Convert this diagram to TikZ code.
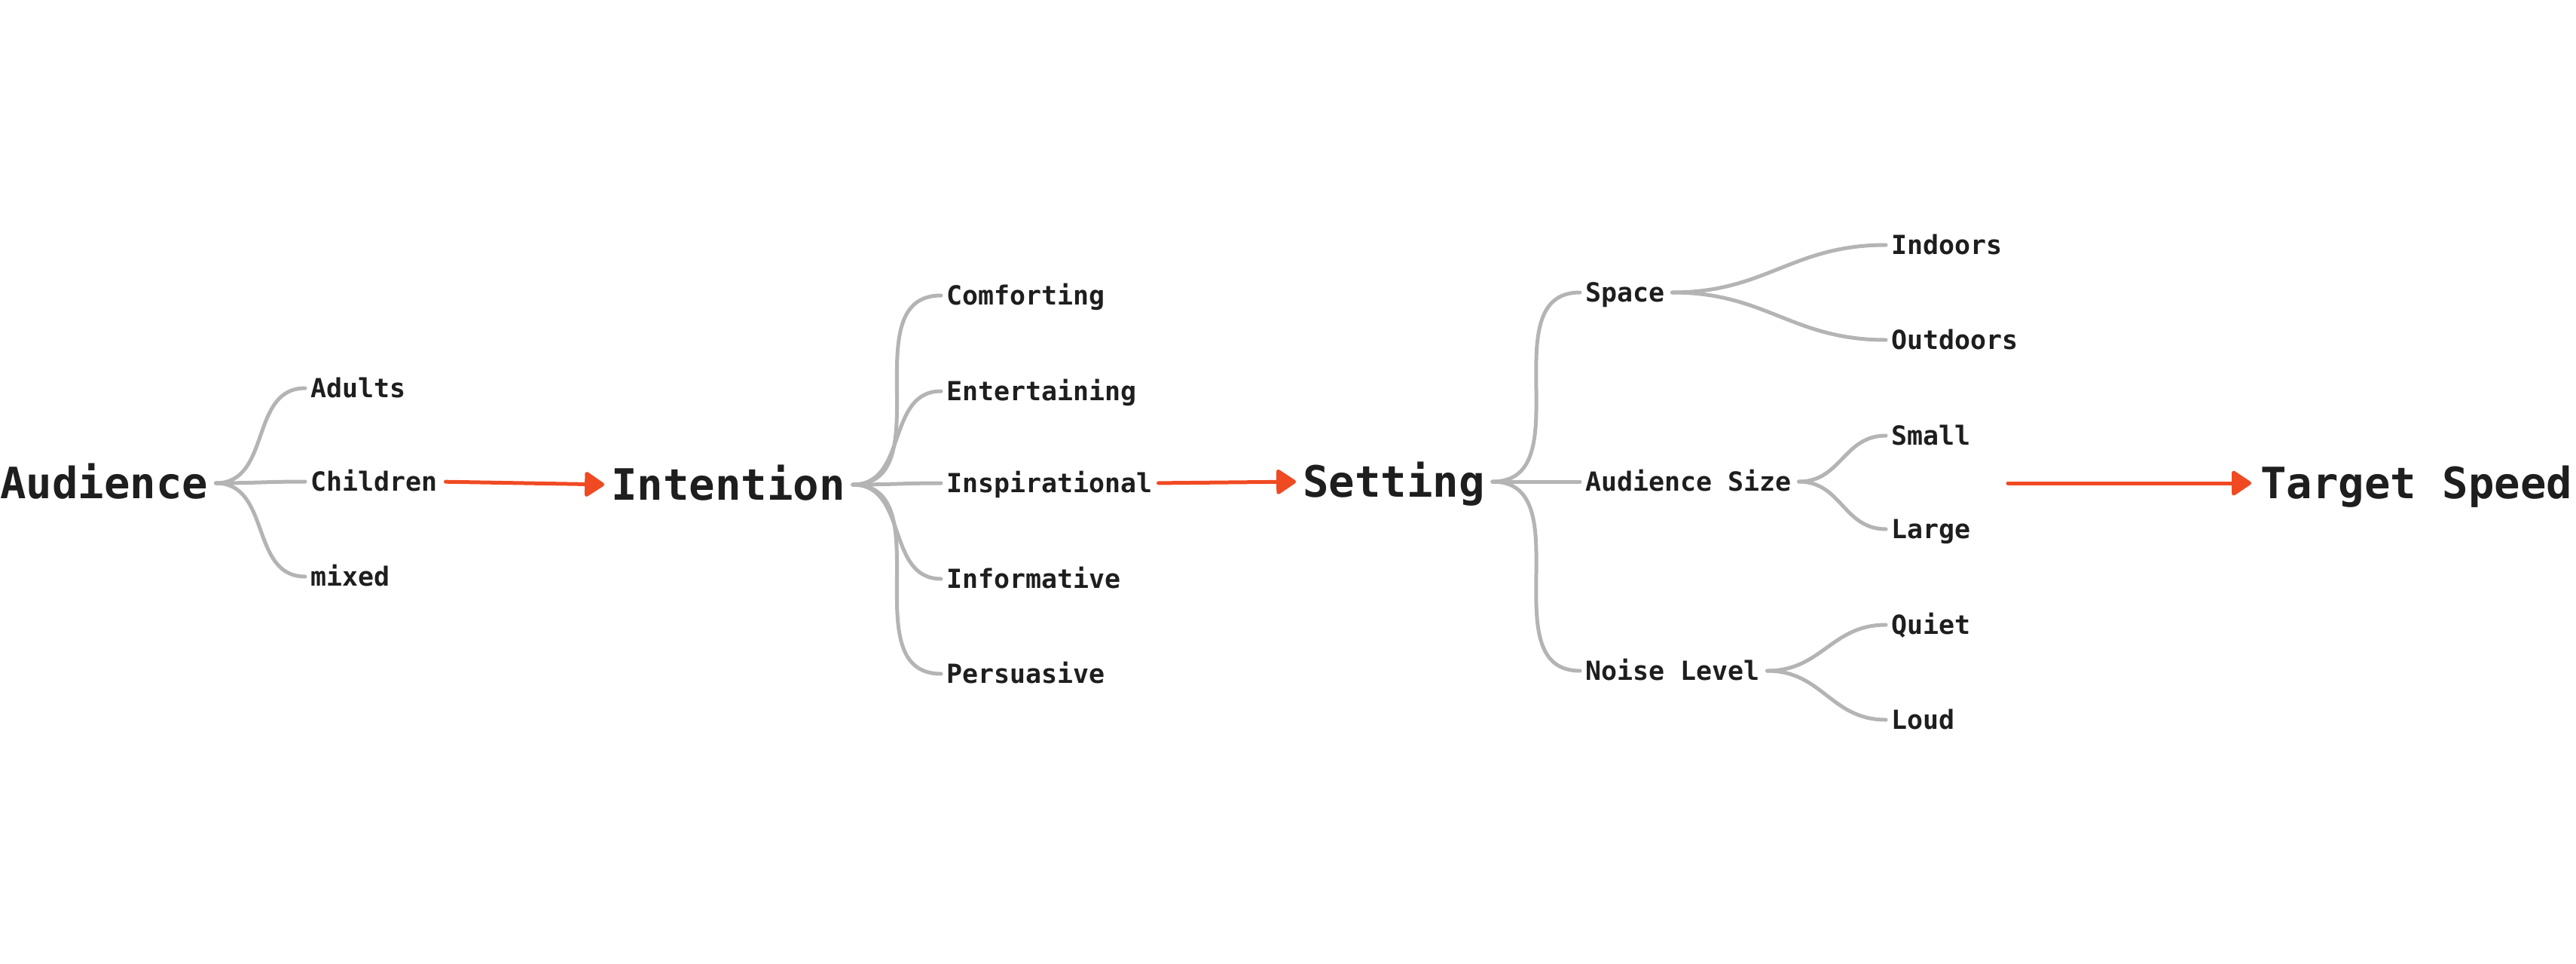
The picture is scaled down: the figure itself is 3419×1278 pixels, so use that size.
\documentclass[tikz,border=0pt]{standalone}
\usepackage{fontspec}
\usetikzlibrary{arrows.meta,calc}
\newfontfamily\monofam{DejaVu Sans Mono}
\newcommand{\bigtxt}{\monofam\bfseries\fontsize{57.3pt}{60pt}\selectfont}
\newcommand{\smalltxt}{\monofam\bfseries\fontsize{34.9pt}{37pt}\selectfont}
\definecolor{ink}{HTML}{1E1E1E}
\definecolor{branchgray}{HTML}{B4B4B4}
\definecolor{arrowred}{HTML}{F04A23}
\tikzset{
  bignode/.style={font=\bigtxt, text=ink, inner sep=0pt, text height=41.8pt, text depth=0pt, anchor=west},
  smallnode/.style={font=\smalltxt, text=ink, inner sep=0pt, text height=25.4pt, text depth=0pt, anchor=west},
  branchline/.style={draw=branchgray, line width=5pt, line cap=round},
  flowarrow/.style={draw=arrowred, line width=5pt, line cap=round, -{Triangle[length=28pt,width=36pt,round]}},
}
\newcommand{\branchto}[2]{%
  \draw[branchline] let \p1=($(#1.east)+(10,0)$), \p2=($(#2.west)+(-7,0)$),
    \n1={0.43*veclen(\x2-\x1,\y2-\y1)} in
    (\p1) .. controls ({\x1+\n1},\y1) and ({\x2-\n1},\y2) .. (\p2);}
\begin{document}
\begin{tikzpicture}[x=1pt,y=-1pt]
\useasboundingbox (0,0) rectangle (3419,1278);
% level 0
\node[bignode] (aud) at (0,641) {Audience};
\node[smallnode] (adults) at (412,515) {Adults};
\node[smallnode] (children) at (412,639) {Children};
\node[smallnode] (mixed) at (412,765) {mixed};
% level 1
\node[bignode] (int) at (811,643) {Intention};
\node[smallnode] (comf) at (1256,392) {Comforting};
\node[smallnode] (ent) at (1256,519) {Entertaining};
\node[smallnode] (insp) at (1256,641) {Inspirational};
\node[smallnode] (infm) at (1256,768) {Informative};
\node[smallnode] (pers) at (1256,894) {Persuasive};
% level 2
\node[bignode] (set) at (1729,639) {Setting};
\node[smallnode] (space) at (2104,388) {Space};
\node[smallnode] (asize) at (2104,639) {Audience Size};
\node[smallnode] (noise) at (2104,890) {Noise Level};
\node[smallnode] (indoors) at (2510,325) {Indoors};
\node[smallnode] (outdoors) at (2510,451) {Outdoors};
\node[smallnode] (small) at (2510,578) {Small};
\node[smallnode] (large) at (2510,702) {Large};
\node[smallnode] (quiet) at (2510,829) {Quiet};
\node[smallnode] (loud) at (2510,955) {Loud};
% level 3
\node[bignode] (tgt) at (3000,641) {Target Speed};
\coordinate (tstart) at (2665,641);
% branches
\branchto{aud}{adults}
\branchto{aud}{children}
\branchto{aud}{mixed}
\branchto{int}{comf}
\branchto{int}{ent}
\branchto{int}{insp}
\branchto{int}{infm}
\branchto{int}{pers}
\branchto{set}{space}
\branchto{set}{asize}
\branchto{set}{noise}
\branchto{space}{indoors}
\branchto{space}{outdoors}
\branchto{asize}{small}
\branchto{asize}{large}
\branchto{noise}{quiet}
\branchto{noise}{loud}
% flow arrows
\draw[flowarrow, shorten <=11pt, shorten >=9pt] (children.east) -- (int.west);
\draw[flowarrow, shorten <=8pt, shorten >=9pt] (insp.east) -- (set.west);
\draw[flowarrow, shorten >=12pt] (tstart) -- (tgt.west);
\end{tikzpicture}
\end{document}
